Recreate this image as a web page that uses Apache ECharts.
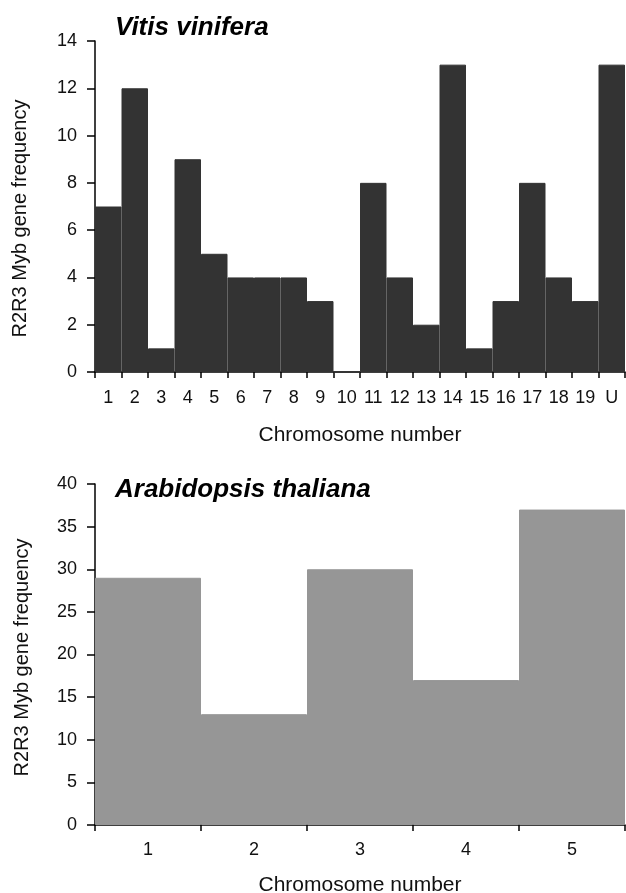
<!DOCTYPE html>
<html>
<head>
<meta charset="utf-8">
<script src="https://cdn.jsdelivr.net/npm/echarts@6/dist/echarts.min.js"></script>
<style>
html,body{margin:0;padding:0;background:#fff;}
#chart{width:626px;height:893px;}
</style>
</head>
<body>
<div id="chart"></div>
<script>
var vitisCategories = ['1','2','3','4','5','6','7','8','9','10','11','12','13','14','15','16','17','18','19','U'];
var vitisValues = [7,12,1,9,5,4,4,4,3,0,8,4,2,13,1,3,8,4,3,13];
var arabCategories = ['1','2','3','4','5'];
var arabValues = [29,13,30,17,37];
var yAxisName = 'R2R3 Myb gene frequency';
var xAxisName = 'Chromosome number';

var FONT = 'Arial, "Liberation Sans", sans-serif';
var chart = echarts.init(document.getElementById('chart'), null, {renderer:'canvas'});

function xAxisCfg(idx, cats, gap, margin){
  return {
    type:'category', gridIndex:idx, data:cats, boundaryGap:true,
    name:xAxisName, nameLocation:'middle', nameGap:gap,
    nameTextStyle:{fontFamily:FONT, fontSize:21, color:'#111'},
    axisLine:{lineStyle:{color:'#000', width:1.5}},
    axisTick:{show:true, alignWithLabel:false, length:6, lineStyle:{color:'#000', width:1.5}},
    axisLabel:{fontFamily:FONT, fontSize:18, color:'#111', margin:margin, interval:0}
  };
}
function yAxisCfg(idx, max, interval, gap, size, pad){
  return {
    type:'value', gridIndex:idx, min:0, max:max, interval:interval,
    name:yAxisName, nameLocation:'middle', nameGap:gap,
    nameTextStyle:{fontFamily:FONT, fontSize:size, color:'#111', padding:pad},
    splitLine:{show:false},
    axisLine:{show:true, lineStyle:{color:'#000', width:1.5}},
    axisTick:{show:true, length:8, lineStyle:{color:'#000', width:1.5}},
    axisLabel:{fontFamily:FONT, fontSize:18, color:'#111', margin:18}
  };
}

chart.setOption({
  animation:false,
  backgroundColor:'#fff',
  title:[
    {text:'Vitis vinifera', left:110, top:10, textStyle:{fontFamily:FONT, fontSize:26, fontWeight:'bold', fontStyle:'italic', color:'#000'}},
    {text:'Arabidopsis thaliana', left:110, top:472, textStyle:{fontFamily:FONT, fontSize:26, fontWeight:'bold', fontStyle:'italic', color:'#000'}}
  ],
  grid:[
    {left:95, right:1, top:41, height:331, containLabel:false, outerBoundsMode:'none'},
    {left:95, right:1, top:484, height:341, containLabel:false, outerBoundsMode:'none'}
  ],
  xAxis:[ xAxisCfg(0, vitisCategories, 53, 17), xAxisCfg(1, arabCategories, 50, 16) ],
  yAxis:[ yAxisCfg(0, 14, 2, 65, 20, [0,24,0,0]), yAxisCfg(1, 40, 5, 63, 20, [0,6,0,0]) ],
  series:[
    {type:'bar', xAxisIndex:0, yAxisIndex:0, data:vitisValues, barCategoryGap:'0%',
     itemStyle:{color:'#333333', borderColor:'#333333', borderWidth:1}},
    {type:'bar', xAxisIndex:1, yAxisIndex:1, data:arabValues, barCategoryGap:'0%',
     itemStyle:{color:'#969696', borderColor:'#969696', borderWidth:1}}
  ]
});
</script>
</body>
</html>
